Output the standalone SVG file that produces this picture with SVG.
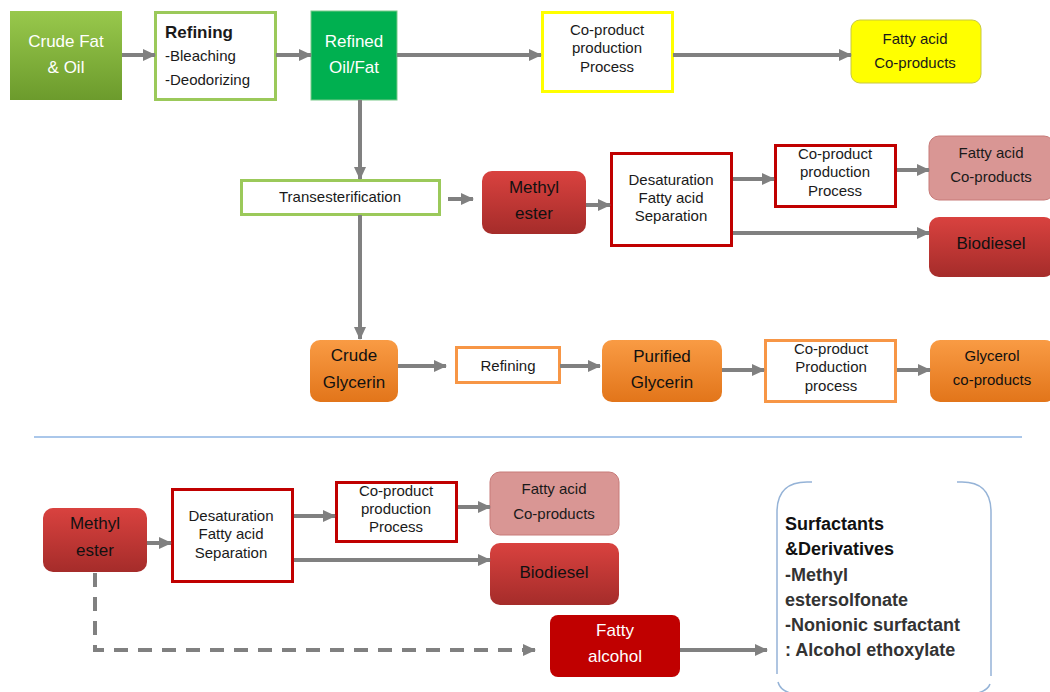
<svg xmlns="http://www.w3.org/2000/svg" width="1050" height="692" viewBox="0 0 1050 692">
<defs>
<linearGradient id="gGreen" x1="0" y1="0" x2="0" y2="1"><stop offset="0" stop-color="#98c84c"/><stop offset="1" stop-color="#6c9b2c"/></linearGradient>
<linearGradient id="gRed" x1="0" y1="0" x2="0" y2="1"><stop offset="0" stop-color="#d9423f"/><stop offset="1" stop-color="#a52c2a"/></linearGradient>
<linearGradient id="gOrange" x1="0" y1="0" x2="0" y2="1"><stop offset="0" stop-color="#f99b44"/><stop offset="1" stop-color="#e2751a"/></linearGradient>
<marker id="ah" markerUnits="userSpaceOnUse" markerWidth="14" markerHeight="14" refX="12" refY="7" orient="auto"><path d="M0,1 L13,7 L0,13 Z" fill="#808080"/></marker>
<style>
.t{font-family:"Liberation Sans",Arial,sans-serif;font-size:15px;text-anchor:middle;fill:#1a1a1a}
.w{fill:#ffffff}
.b{font-size:17px}
.c{stroke:#808080;stroke-width:4;fill:none;marker-end:url(#ah)}
.box{fill:#fff;stroke-width:3}
</style>
</defs>

<g id="crude-fat">
<rect x="10" y="11" width="112" height="89" fill="url(#gGreen)"/>
<text class="t w b" x="66" y="47">Crude Fat</text>
<text class="t w b" x="66" y="73">&amp; Oil</text>
</g>
<g id="refining1">
<rect class="box" x="155.5" y="12.5" width="120" height="87" stroke="#9bc95a"/>
<text class="t b" x="165" y="38" style="text-anchor:start;font-weight:bold">Refining</text>
<text class="t" x="165" y="61" style="text-anchor:start">-Bleaching</text>
<text class="t" x="165" y="85" style="text-anchor:start">-Deodorizing</text>
</g>
<g id="refined-oil">
<rect x="311" y="11" width="86" height="89" fill="#00b050" stroke="#7bc98a" stroke-width="1"/>
<text class="t w b" x="354" y="47">Refined</text>
<text class="t w b" x="354" y="73">Oil/Fat</text>
</g>
<g id="coproduct-yellow">
<rect class="box" x="542.5" y="12.5" width="130" height="79" stroke="#ffff00"/>
<text class="t" x="607" y="35">Co-product</text>
<text class="t" x="607" y="53">production</text>
<text class="t" x="607" y="72">Process</text>
</g>
<g id="fatty-yellow">
<rect x="851" y="20" width="130" height="63" rx="9" fill="#ffff00" stroke="#c8c840" stroke-width="1"/>
<text class="t" x="915" y="44">Fatty acid</text>
<text class="t" x="915" y="68">Co-products</text>
</g>

<g id="transesterification">
<rect class="box" x="241.5" y="180.5" width="198" height="34" stroke="#9bc95a"/>
<text class="t" x="340" y="202">Transesterification</text>
</g>
<g id="methyl-ester1">
<rect x="482" y="171" width="104" height="63" rx="10" fill="url(#gRed)"/>
<text class="t b" x="534" y="193" fill="#111" style="fill:#111">Methyl</text>
<text class="t b" x="534" y="219" style="fill:#111">ester</text>
</g>
<g id="desat1">
<rect class="box" x="611.5" y="153.5" width="120" height="92" stroke="#c00000"/>
<text class="t" x="671" y="185">Desaturation</text>
<text class="t" x="671" y="203">Fatty acid</text>
<text class="t" x="671" y="221">Separation</text>
</g>
<g id="coproduct-red1">
<rect class="box" x="775.5" y="145.5" width="120" height="61" stroke="#c00000"/>
<text class="t" x="835" y="159">Co-product</text>
<text class="t" x="835" y="177">production</text>
<text class="t" x="835" y="196">Process</text>
</g>
<g id="fatty-pink1">
<rect x="929" y="136" width="125" height="64" rx="10" fill="#d99694" stroke="#c77a78" stroke-width="1"/>
<text class="t" x="991" y="158">Fatty acid</text>
<text class="t" x="991" y="182">Co-products</text>
</g>
<g id="biodiesel1">
<rect x="929" y="217" width="125" height="60" rx="10" fill="url(#gRed)"/>
<text class="t b" x="991" y="249" style="fill:#111">Biodiesel</text>
</g>

<g id="crude-glycerin">
<rect x="310" y="340" width="88" height="62" rx="10" fill="url(#gOrange)"/>
<text class="t b" x="354" y="361" style="fill:#111">Crude</text>
<text class="t b" x="354" y="388" style="fill:#111">Glycerin</text>
</g>
<g id="refining2">
<rect class="box" x="456.5" y="347.5" width="103" height="35" stroke="#f79646"/>
<text class="t" x="508" y="371">Refining</text>
</g>
<g id="purified-glycerin">
<rect x="602" y="340" width="120" height="62" rx="10" fill="url(#gOrange)"/>
<text class="t b" x="662" y="362" style="fill:#111">Purified</text>
<text class="t b" x="662" y="388" style="fill:#111">Glycerin</text>
</g>
<g id="coproduct-orange">
<rect class="box" x="765.5" y="340.5" width="130" height="61" stroke="#f79646"/>
<text class="t" x="831" y="354">Co-product</text>
<text class="t" x="831" y="372">Production</text>
<text class="t" x="831" y="391">process</text>
</g>
<g id="glycerol">
<rect x="930" y="340" width="125" height="62" rx="10" fill="url(#gOrange)"/>
<text class="t" x="992" y="361" style="fill:#111">Glycerol</text>
<text class="t" x="992" y="385" style="fill:#111">co-products</text>
</g>

<line x1="34" y1="437" x2="1022" y2="437" stroke="#8eb4e3" stroke-width="1.5"/>

<g id="methyl-ester2">
<rect x="43" y="508" width="104" height="64" rx="10" fill="url(#gRed)"/>
<text class="t b" x="95" y="529" style="fill:#111">Methyl</text>
<text class="t b" x="95" y="556" style="fill:#111">ester</text>
</g>
<g id="desat2">
<rect class="box" x="172.5" y="489.5" width="120" height="92" stroke="#c00000"/>
<text class="t" x="231" y="521">Desaturation</text>
<text class="t" x="231" y="539">Fatty acid</text>
<text class="t" x="231" y="558">Separation</text>
</g>
<g id="coproduct-red2">
<rect class="box" x="336.5" y="482.5" width="120" height="59" stroke="#c00000"/>
<text class="t" x="396" y="496">Co-product</text>
<text class="t" x="396" y="514">production</text>
<text class="t" x="396" y="532">Process</text>
</g>
<g id="fatty-pink2">
<rect x="490" y="472" width="129" height="63" rx="10" fill="#d99694" stroke="#c77a78" stroke-width="1"/>
<text class="t" x="554" y="494">Fatty acid</text>
<text class="t" x="554" y="519">Co-products</text>
</g>
<g id="biodiesel2">
<rect x="490" y="543" width="129" height="62" rx="10" fill="url(#gRed)"/>
<text class="t b" x="554" y="578" style="fill:#111">Biodiesel</text>
</g>
<g id="fatty-alcohol">
<rect x="550" y="615" width="130" height="62" rx="8" fill="#c00000"/>
<text class="t w b" x="615" y="636">Fatty</text>
<text class="t w b" x="615" y="662">alcohol</text>
</g>
<g id="surfactants">
<path d="M812,482 L807,482 Q777,482 777,512 L777,674 M778,682 Q780,690 790,693 M957,482 L962,482 Q991,482 991,512 L991,676 M990,684 Q988,690 978,693" fill="none" stroke="#95b3d7" stroke-width="1.5"/>
<g style="font-family:'Liberation Sans',Arial,sans-serif;font-size:18px;font-weight:bold">
<text x="785" y="530" fill="#111">Surfactants</text>
<text x="785" y="555" fill="#111">&amp;Derivatives</text>
<text x="785" y="581" fill="#333">-Methyl</text>
<text x="785" y="606" fill="#333">estersolfonate</text>
<text x="785" y="631" fill="#333">-Nonionic surfactant</text>
<text x="785" y="656" fill="#333">: Alcohol ethoxylate</text>
</g>
</g>

<g id="connectors">
<line class="c" x1="122" y1="55" x2="155" y2="55"/>
<line class="c" x1="276" y1="55" x2="311" y2="55"/>
<line class="c" x1="397" y1="55" x2="541" y2="55"/>
<line class="c" x1="673" y1="55" x2="851" y2="55"/>
<line class="c" x1="360" y1="100" x2="360" y2="179"/>
<line class="c" x1="360" y1="215" x2="360" y2="339"/>
<line class="c" x1="448" y1="199" x2="473" y2="199"/>
<line class="c" x1="586" y1="205" x2="610" y2="205"/>
<line class="c" x1="733" y1="179" x2="774" y2="179"/>
<line class="c" x1="897" y1="170" x2="929" y2="170"/>
<line class="c" x1="733" y1="233" x2="929" y2="233"/>
<line class="c" x1="398" y1="366" x2="446" y2="366"/>
<line class="c" x1="560" y1="366" x2="600" y2="366"/>
<line class="c" x1="722" y1="370" x2="764" y2="370"/>
<line class="c" x1="897" y1="370" x2="930" y2="370"/>
<line class="c" x1="147" y1="543" x2="171" y2="543"/>
<line class="c" x1="294" y1="516" x2="335" y2="516"/>
<line class="c" x1="458" y1="507" x2="490" y2="507"/>
<line class="c" x1="294" y1="560" x2="490" y2="560"/>
<path class="c" d="M95,573 L95,650 L535,650" stroke-dasharray="14 10"/>
<line class="c" x1="680" y1="650" x2="767" y2="650"/>
</g>
</svg>
